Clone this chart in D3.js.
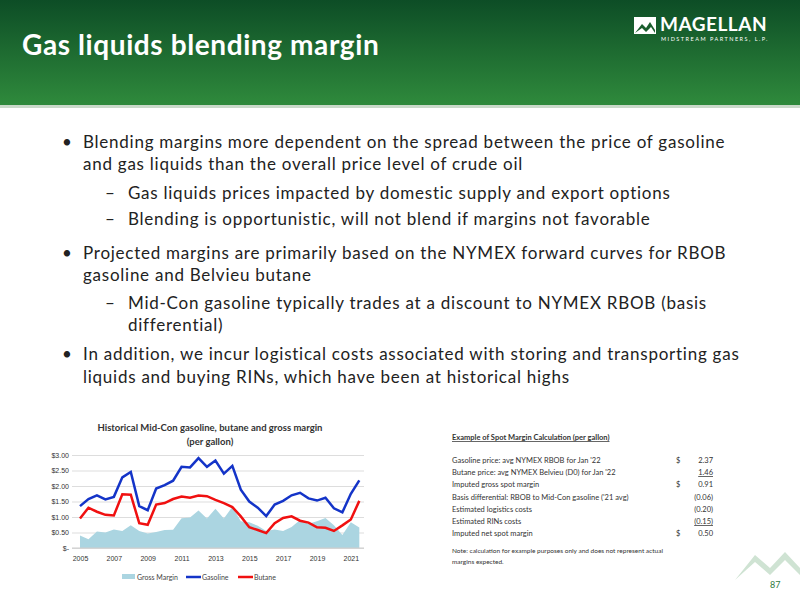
<!DOCTYPE html><html><head><meta charset="utf-8"><script src="https://cdn.jsdelivr.net/npm/d3@7"></script>
<style>body{margin:0}svg{font-family:Lato,"Open Sans",sans-serif}</style></head><body><svg id="s" width="800" height="600"></svg>
<script>
const years=d3.range(34).map(i=>2005+i*0.5);
const gasoline=[1.35,1.58,1.70,1.57,1.65,2.28,2.45,1.35,1.22,1.92,2.03,2.17,2.62,2.60,2.90,2.62,2.82,2.40,2.65,1.88,1.50,1.30,1.03,1.40,1.52,1.70,1.78,1.60,1.53,1.62,1.28,1.15,1.75,2.18];
const butane=[0.95,1.30,1.17,1.07,1.05,1.73,1.72,0.80,0.75,1.40,1.45,1.58,1.66,1.62,1.69,1.67,1.55,1.45,1.32,1.02,0.67,0.58,0.48,0.80,0.97,1.02,0.88,0.82,0.67,0.65,0.55,0.73,0.92,1.52];
const margin=[0.40,0.28,0.53,0.50,0.60,0.55,0.73,0.55,0.47,0.52,0.58,0.59,0.96,0.98,1.21,0.95,1.27,0.95,1.33,0.86,0.83,0.72,0.55,0.60,0.55,0.68,0.90,0.78,0.86,0.97,0.73,0.42,0.83,0.66];
const yTicks=[0,0.5,1,1.5,2,2.5,3];
const xTicks=[2005,2007,2009,2011,2013,2015,2017,2019,2021];
const tableRows=[["Gasoline price: avg NYMEX RBOB for Jan '22","$","2.37",false],["Butane price: avg NYMEX Belvieu (D0) for Jan '22","","1.46",true],["Imputed gross spot margin","$","0.91",false],["Basis differential: RBOB to Mid-Con gasoline ('21 avg)","","(0.06)",false],["Estimated logistics costs","","(0.20)",false],["Estimated RINs costs","","(0.15)",true],["Imputed net spot margin","$","0.50",false]];
const bullets=[[0,"•","Blending margins more dependent on the spread between the price of gasoline",148],[0,"","and gas liquids than the overall price level of crude oil",170],[1,"–","Gas liquids prices impacted by domestic supply and export options",199],[1,"–","Blending is opportunistic, will not blend if margins not favorable",225],[0,"•","Projected margins are primarily based on the NYMEX forward curves for RBOB",259],[0,"","gasoline and Belvieu butane",281],[1,"–","Mid-Con gasoline typically trades at a discount to NYMEX RBOB (basis",309],[1,"","differential)",331],[0,"•","In addition, we incur logistical costs associated with storing and transporting gas",360],[0,"","liquids and buying RINs, which have been at historical highs",383]];
const svg=d3.select("#s");
const defs=svg.append("defs");
const g=defs.append("linearGradient").attr("id","hg").attr("x1",0).attr("y1",0).attr("x2",0).attr("y2",1);
g.append("stop").attr("offset",0).attr("stop-color","#0d4d26");g.append("stop").attr("offset",1).attr("stop-color","#2f8a3c");
svg.append("rect").attr("width",800).attr("height",600).attr("fill","#fff");
svg.append("rect").attr("width",800).attr("height",105).attr("fill","url(#hg)");
svg.append("rect").attr("y",105).attr("width",800).attr("height",3).attr("fill","#c9d9c9");
svg.append("text").attr("x",22).attr("y",55).attr("fill","#fff").attr("font-size",28).attr("font-weight","bold").attr("letter-spacing",0.6).text("Gas liquids blending margin");
// logo
svg.append("path").attr("d","M634,34 L634,17 L656,17 L656,34 Z").attr("fill","#fff");
svg.append("path").attr("d","M635,33 L642,24 L646,28 L650,22 L655,30 L655,33 L651,27 L646,32 L642,28 Z").attr("fill","#1b5e2e");
svg.append("text").attr("x",660).attr("y",31).attr("fill","#fff").attr("font-size",19).attr("font-weight","bold").attr("letter-spacing",0.5).text("MAGELLAN");
svg.append("text").attr("x",661).attr("y",41).attr("fill","#fff").attr("font-size",5.5).attr("letter-spacing",1.5).text("MIDSTREAM PARTNERS, L.P.");
const bt=svg.append("g").attr("font-size",17).attr("fill","#222");
bullets.forEach(([lv,m,t,y])=>{const x0=lv?105:62;if(m)bt.append("text").attr("x",x0).attr("y",y).attr("fill","#222").attr("font-size",17).text(m);bt.append("text").attr("x",x0+(lv?23:21)).attr("y",y).attr("fill","#222").attr("letter-spacing",0.75).text(t);});
// chart
const x=d3.scaleLinear().domain([2005,2021.6]).range([80,361]);
const y=d3.scaleLinear().domain([0,3]).range([548,455]);
const c=svg.append("g");
c.append("text").attr("x",210).attr("y",431).attr("text-anchor","middle").attr("font-size",9.5).attr("font-weight","bold").attr("fill","#333").text("Historical Mid-Con gasoline, butane and gross margin");
c.append("text").attr("x",210).attr("y",445).attr("text-anchor","middle").attr("font-size",9.5).attr("font-weight","bold").attr("fill","#333").text("(per gallon)");
c.append("g").attr("transform","translate(72,0)").call(d3.axisLeft(y).tickValues(yTicks).tickSize(-292).tickFormat(d=>d===0?"$-":d3.format("$.2f")(d))).call(a=>{a.select(".domain").remove();a.selectAll("line").attr("stroke","#ddd");a.selectAll("text").attr("font-size",7).attr("fill","#333");});
c.append("path").datum(margin).attr("fill","#abd5e1").attr("d",d3.area().x((d,i)=>x(years[i])).y0(y(0)).y1(d=>y(d)));
c.append("line").attr("x1",72).attr("x2",364).attr("y1",y(0)).attr("y2",y(0)).attr("stroke","#ccc");
c.append("g").attr("transform","translate(0,548)").call(d3.axisBottom(x).tickValues(xTicks).tickSize(0).tickPadding(8).tickFormat(d3.format("d"))).call(a=>{a.select(".domain").remove();a.selectAll("text").attr("font-size",7).attr("fill","#333");});
const ln=d3.line().x((d,i)=>x(years[i])).y(d=>y(d));
c.append("path").datum(gasoline).attr("fill","none").attr("stroke","#1434c8").attr("stroke-width",2.5).attr("d",ln);
c.append("path").datum(butane).attr("fill","none").attr("stroke","#f01010").attr("stroke-width",2.5).attr("d",ln);
const lg=[["Gross Margin","#abd5e1",true,136],["Gasoline","#1434c8",false,201],["Butane","#f01010",false,253]];
lg.forEach(([t,col,a,lx])=>{if(a)c.append("rect").attr("x",lx-14).attr("y",574).attr("width",13).attr("height",5).attr("fill",col);else c.append("line").attr("x1",lx-15).attr("x2",lx).attr("y1",577).attr("y2",577).attr("stroke",col).attr("stroke-width",2.5);c.append("text").attr("x",lx+1).attr("y",580).attr("font-size",7).attr("fill","#444").text(t);});
// table
const tb=svg.append("g").attr("font-size",7.5).attr("fill","#333");
tb.append("text").attr("x",452).attr("y",440).attr("font-weight","bold").attr("font-size",7.5).attr("text-decoration","underline").text("Example of Spot Margin Calculation (per gallon)");
tableRows.forEach(([l,d,v,u],i)=>{const yy=463+i*12.2;tb.append("text").attr("x",452).attr("y",yy).text(l);tb.append("text").attr("x",676).attr("y",yy).text(d);const t=tb.append("text").attr("x",713).attr("y",yy).attr("text-anchor","end").text(v);if(u)t.attr("text-decoration","underline");});
tb.append("text").attr("x",452).attr("y",553).attr("font-size",6.5).text("Note: calculation for example purposes only and does not represent actual");
tb.append("text").attr("x",452).attr("y",564).attr("font-size",6.5).text("margins expected.");
svg.append("path").attr("d","M735,580 L755,555 L770,568 L785,552 L800,568 L800,575 L785,560 L770,575 L755,562 Z").attr("fill","#cfe3d3");
svg.append("text").attr("x",770).attr("y",588).attr("font-size",9).attr("fill","#2f7a3c").text("87");
</script></body></html>
